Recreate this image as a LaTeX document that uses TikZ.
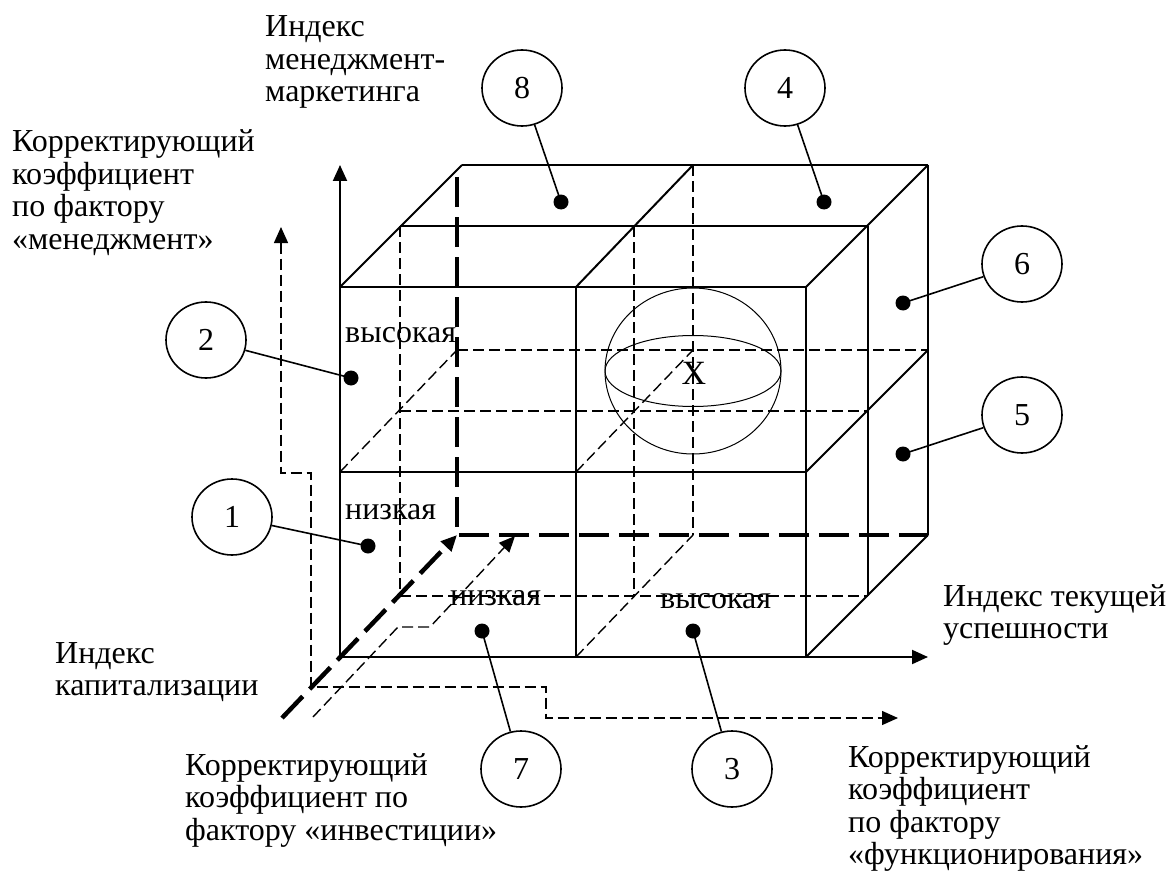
\documentclass[tikz,border=0pt]{standalone}
\usepackage{fontspec}
\setmainfont{Liberation Serif}
\usetikzlibrary{arrows.meta,shapes.geometric}
\begin{document}
\begin{tikzpicture}[x=1pt,y=-1pt,
  edge/.style={line width=2pt},
  hid/.style={line width=1.4pt, dash pattern=on 11pt off 5pt},
  heavy/.style={line width=4.5pt, dash pattern=on 30pt off 10pt},
  arrowtip/.style={-{Triangle[length=16pt,width=14pt]}},
  num/.style={ellipse, draw, line width=1.6pt, minimum width=80pt, minimum height=76pt, inner sep=0pt, font=\fontsize{32}{36}\selectfont},
  leader/.style={line width=1.6pt},
  lbl/.style={anchor=base west, inner sep=0pt, font=\fontsize{32}{32.5}\selectfont},
  cell/.style={anchor=base west, inner sep=0pt, font=\fontsize{32}{36}\selectfont},
  sph/.style={line width=1pt}]
\useasboundingbox (0,0) rectangle (1173,872);

% ---- hidden (dashed) lines
\draw[hid] (400,226) -- (400,596);
\draw[hid] (634,226) -- (634,596);
\draw[hid] (693,165) -- (693,535);
\draw[hid] (400,596) -- (868,596);
\draw[hid] (400,411) -- (868,411);
\draw[hid] (457,350) -- (928,350);
\draw[hid] (340,472) -- (457,350);
\draw[hid] (576,472) -- (693,350);
\draw[hid] (576,657) -- (693,535);

% ---- heavy dashed axis
\coordinate (hs) at (282,718);
\coordinate (ho) at (457,535);
\draw[heavy] (457,177) -- (ho) -- (928,535);
\draw[heavy,arrowtip] (hs) -- (ho);

% ---- thin dashed factor axes
\coordinate (fm) at (281,227);
\coordinate (ff) at (898,718);
\draw[hid,{Triangle[length=16pt,width=14pt]}-{Triangle[length=16pt,width=14pt]}]
  (fm) -- (281,473) -- (311,473) -- (311,687) -- (546,687) -- (546,718) -- (ff);
\coordinate (is) at (313,717);
\coordinate (ie) at (515,536);
\draw[hid,arrowtip] (is) -- (398,627) -- (430,627) -- (ie);

% ---- cube solid edges
\draw[edge] (340,287) rectangle (806,657);
\draw[edge] (340,472) -- (806,472);
\draw[edge] (576,287) -- (576,657);
\draw[edge] (400,226) -- (868,226);
\draw[edge] (462,165) -- (928,165);
\draw[edge] (340,287) -- (462,165);
\draw[edge] (576,287) -- (693,165);
\draw[edge] (806,287) -- (928,165);
\draw[edge] (806,472) -- (928,350);
\draw[edge] (806,657) -- (928,535);
\draw[edge] (868,226) -- (868,596);
\draw[edge] (928,165) -- (928,535);

% ---- solid axes
\coordinate (ax0) at (340,287);
\coordinate (ax1) at (340,165);
\coordinate (bx0) at (806,657);
\coordinate (bx1) at (928,657);
\draw[edge,arrowtip] (ax0) -- (ax1);
\draw[edge,arrowtip] (bx0) -- (bx1);

% ---- sphere
\draw[sph] (693,371) ellipse (88 and 83);
\draw[sph] (693,371) ellipse (88 and 35.5);
\node[inner sep=0pt, font=\fontsize{34}{38}\selectfont] (X) at (694,373) {X};

% ---- cell labels
\node[cell] (hi1) at (345,342) {высокая};
\node[cell] (lo1) at (345,519) {низкая};
\node[cell] (lo2) at (450,605) {низкая};
\node[cell] (hi2) at (660,608) {высокая};

% ---- axis labels
\node[lbl] (t1) at (265,37) {\begin{tabular}[t]{@{}l@{}}Индекс\\менеджмент-\\маркетинга\end{tabular}};
\node[lbl] (t2) at (12,152) {\begin{tabular}[t]{@{}l@{}}Корректирующий\\коэффициент\\по фактору\\«менеджмент»\end{tabular}};
\node[lbl] (t3) at (55,663) {\begin{tabular}[t]{@{}l@{}}Индекс\\капитализации\end{tabular}};
\node[lbl] (t4) at (185,775) {\begin{tabular}[t]{@{}l@{}}Корректирующий\\коэффициент по\\фактору «инвестиции»\end{tabular}};
\node[lbl] (t5) at (943,606) {\begin{tabular}[t]{@{}l@{}}Индекс текущей\\успешности\end{tabular}};
\node[lbl] (t6) at (848,767) {\begin{tabular}[t]{@{}l@{}}Корректирующий\\коэффициент\\по фактору\\«функционирования»\end{tabular}};

% ---- numbered callouts
\node[num] (c8) at (522,88) {8};
\node[num] (c4) at (785,88) {4};
\node[num] (c6) at (1022,264) {6};
\node[num] (c5) at (1022,415) {5};
\node[num] (c2) at (206,340) {2};
\node[num] (c1) at (232,517) {1};
\node[num] (c7) at (521,769) {7};
\node[num] (c3) at (732,769) {3};

\coordinate (d8) at (561,202);
\coordinate (d4) at (824,202);
\coordinate (d6) at (903,303);
\coordinate (d5) at (903,454);
\coordinate (d2) at (351,378);
\coordinate (d1) at (368,546);
\coordinate (d7) at (482,631);
\coordinate (d3) at (693,631);
\foreach \d in {d8,d4,d6,d5,d2,d1,d7,d3} {\fill (\d) circle (7.5);}
\foreach \c/\d in {c8/d8,c4/d4,c6/d6,c5/d5,c2/d2,c1/d1,c7/d7,c3/d3} {\draw[leader] (\c) -- (\d);}
\end{tikzpicture}
\end{document}
